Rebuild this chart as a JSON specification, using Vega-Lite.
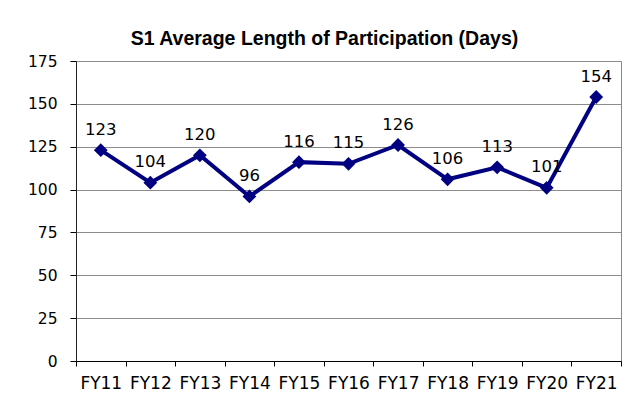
{
  "$schema": "https://vega.github.io/schema/vega-lite/v6.json",
  "width": 545,
  "height": 300,
  "autosize": {"type": "none"},
  "padding": {"left": 76, "top": 61, "right": 17, "bottom": 53},
  "background": "white",
  "title": {
    "text": "S1 Average Length of Participation (Days)",
    "font": "Liberation Sans",
    "fontSize": 19.5,
    "fontWeight": "bold",
    "color": "black",
    "anchor": "middle",
    "frame": "bounds",
    "offset": 5
  },
  "config": {
    "view": {"stroke": "#888888", "strokeWidth": 1},
    "axis": {
      "labelFont": "DejaVu Sans",
      "labelColor": "black",
      "titleFont": "DejaVu Sans"
    }
  },
  "data": {
    "values": [
      {"fy": "FY11", "days": 123},
      {"fy": "FY12", "days": 104},
      {"fy": "FY13", "days": 120},
      {"fy": "FY14", "days": 96},
      {"fy": "FY15", "days": 116},
      {"fy": "FY16", "days": 115},
      {"fy": "FY17", "days": 126},
      {"fy": "FY18", "days": 106},
      {"fy": "FY19", "days": 113},
      {"fy": "FY20", "days": 101},
      {"fy": "FY21", "days": 154}
    ]
  },
  "encoding": {
    "x": {
      "field": "fy",
      "type": "nominal",
      "sort": null,
      "bandPosition": 0.5,
      "scale": {"type": "band", "paddingInner": 0, "paddingOuter": 0},
      "axis": {
        "title": null,
        "labelAngle": 0,
        "labelFontSize": 17,
        "tickBand": "extent",
        "tickSize": 5,
        "tickColor": "black",
        "domainColor": "black",
        "labelPadding": 9,
        "grid": false
      }
    },
    "y": {
      "field": "days",
      "type": "quantitative",
      "scale": {"domain": [0, 175], "nice": false},
      "axis": {
        "title": null,
        "labelFontSize": 15.5,
        "values": [0, 25, 50, 75, 100, 125, 150, 175],
        "tickSize": 6,
        "tickColor": "black",
        "domainColor": "#222222",
        "gridColor": "#8c8c8c",
        "gridWidth": 1,
        "labelPadding": 13
      }
    }
  },
  "layer": [
    {
      "mark": {"type": "line", "color": "#000080", "strokeWidth": 4}
    },
    {
      "mark": {"type": "point", "shape": "diamond", "filled": true, "color": "#000080", "size": 190, "opacity": 1}
    },
    {
      "mark": {"type": "text", "dy": -15.5, "baseline": "alphabetic", "font": "DejaVu Sans", "fontSize": 16.5, "color": "black"},
      "encoding": {"text": {"field": "days", "type": "quantitative"}}
    }
  ]
}
